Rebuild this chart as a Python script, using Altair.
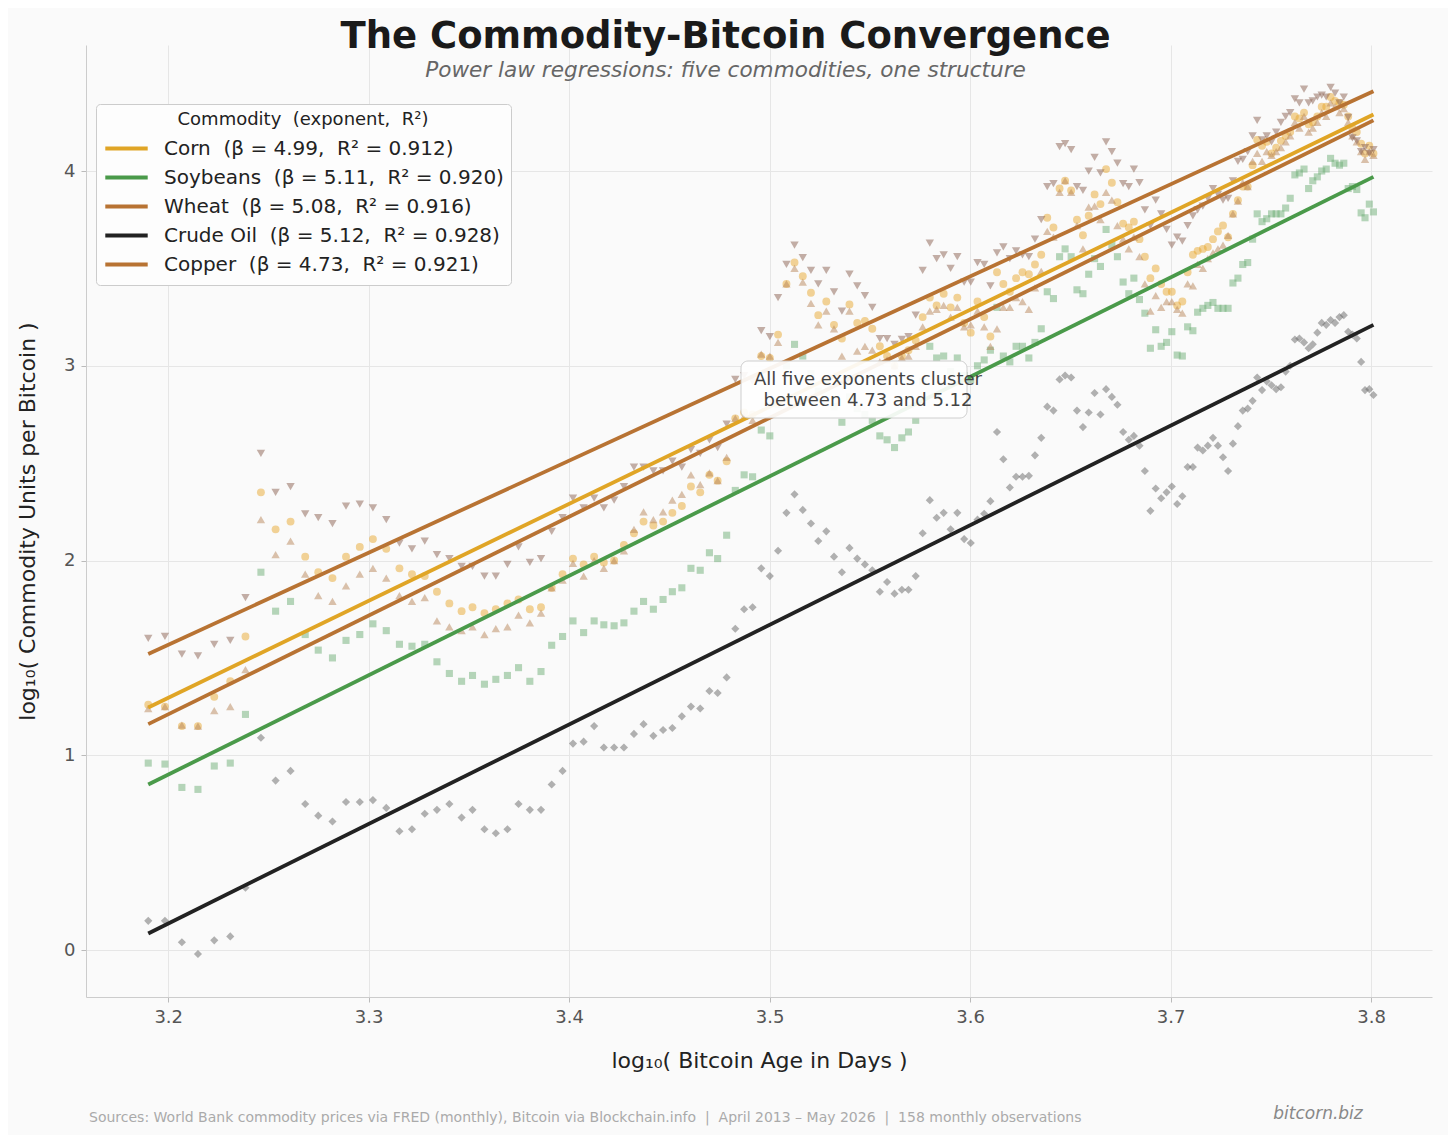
import numpy as np
import pandas as pd
import altair as alt

# ---------------- data ----------------
months = pd.date_range("2013-04-01", periods=158, freq="MS")
genesis = pd.Timestamp("2009-01-03")
age_days = np.asarray((months - genesis).days, dtype=float)
log_age = np.log10(age_days)

corn = [1.26, 1.25, 1.15, 1.15, 1.30, 1.38, 1.61, 2.35, 2.16, 2.20,
        2.02, 1.94, 1.91, 2.02, 2.07, 2.11, 2.06, 1.96, 1.93, 1.92,
        1.84, 1.78, 1.74, 1.76, 1.73, 1.75, 1.78, 1.80, 1.75, 1.76,
        1.86, 1.93, 2.01, 1.98, 2.02, 1.99, 2.00, 2.08, 2.14, 2.20,
        2.18, 2.20, 2.245, 2.28, 2.38, 2.35, 2.44, 2.41, 2.51, 2.73,
        2.76, 2.75, 3.05, 3.04, 3.16, 3.42, 3.53, 3.46, 3.375, 3.26,
        3.33, 3.21, 3.14, 3.315, 3.22, 3.23, 3.19, 3.10, 3.05, 3.00,
        3.05, 3.08, 3.13, 3.25, 3.35, 3.31, 3.37, 3.30, 3.35, 3.22,
        3.17, 3.33, 3.25, 3.15, 3.48, 3.42, 3.38, 3.45, 3.48, 3.47,
        3.52, 3.57, 3.76, 3.71, 3.91, 3.95, 3.90, 3.75, 3.67, 3.77,
        3.88, 3.83, 4.01, 3.94, 3.84, 3.73, 3.71, 3.74, 3.65, 3.56,
        3.45, 3.50, 3.42, 3.38, 3.38, 3.31, 3.33, 3.48, 3.57, 3.59,
        3.60, 3.61, 3.65, 3.69, 3.72, 3.66, 3.78, 3.85, 3.92, 3.92,
        4.03, 4.16, 4.13, 4.15, 4.09, 4.12, 4.155, 4.18, 4.20, 4.28,
        4.27, 4.30, 4.24, 4.25, 4.28, 4.33, 4.33, 4.38, 4.36, 4.35,
        4.34, 4.28, 4.22, 4.20, 4.14, 4.09, 4.13, 4.09]

soybeans = [0.96, 0.955, 0.835, 0.825, 0.945, 0.96, 1.21, 1.94, 1.74, 1.79,
            1.62, 1.54, 1.50, 1.59, 1.62, 1.675, 1.64, 1.57, 1.56, 1.57,
            1.48, 1.42, 1.38, 1.41, 1.365, 1.39, 1.41, 1.45, 1.38, 1.43,
            1.565, 1.61, 1.69, 1.63, 1.69, 1.67, 1.665, 1.68, 1.74, 1.79,
            1.75, 1.80, 1.84, 1.86, 1.96, 1.95, 2.04, 2.01, 2.13, 2.36,
            2.44, 2.43, 2.67, 2.64, 2.80, 3.00, 3.11, 3.05, 2.96, 2.87,
            2.92, 2.79, 2.71, 2.84, 2.78, 2.75, 2.72, 2.64, 2.62, 2.58,
            2.63, 2.66, 2.72, 2.92, 3.10, 3.04, 3.05, 2.97, 3.04, 2.95,
            2.93, 3.00, 3.03, 3.08, 3.30, 3.05, 3.02, 3.10, 3.10, 3.04,
            3.12, 3.19, 3.38, 3.345, 3.56, 3.60, 3.56, 3.39, 3.37, 3.47,
            3.55, 3.51, 3.70, 3.62, 3.56, 3.43, 3.37, 3.45, 3.34, 3.27,
            3.09, 3.185, 3.10, 3.12, 3.175, 3.055, 3.05, 3.20, 3.18, 3.275,
            3.295, 3.31, 3.325, 3.295, 3.295, 3.295, 3.425, 3.45, 3.52, 3.53,
            3.65, 3.78, 3.74, 3.755, 3.78, 3.78, 3.78, 3.81, 3.86, 3.98,
            3.99, 4.01, 3.91, 3.95, 3.97, 4.00, 4.01, 4.065, 4.04, 4.03,
            4.04, 3.91, 3.92, 3.905, 3.785, 3.76, 3.83, 3.79]

wheat = [1.24, 1.25, 1.155, 1.15, 1.23, 1.25, 1.44, 2.21, 2.03, 2.10,
         1.93, 1.82, 1.79, 1.87, 1.93, 1.96, 1.91, 1.82, 1.79, 1.81,
         1.69, 1.66, 1.64, 1.66, 1.62, 1.65, 1.66, 1.72, 1.68, 1.73,
         1.86, 1.90, 1.985, 1.92, 2.00, 1.96, 2.00, 2.05, 2.16, 2.25,
         2.21, 2.25, 2.31, 2.34, 2.44, 2.39, 2.45, 2.41, 2.53, 2.73,
         2.74, 2.72, 3.06, 3.05, 3.12, 3.42, 3.50, 3.43, 3.32, 3.21,
         3.28, 3.19, 3.05, 3.28, 3.075, 3.10, 3.08, 3.02, 3.03, 3.00,
         3.04, 3.05, 3.10, 3.20, 3.28, 3.29, 3.31, 3.25, 3.30, 3.20,
         3.21, 3.28, 3.20, 3.10, 3.19, 3.30, 3.30, 3.35, 3.33, 3.29,
         3.40, 3.485, 3.69, 3.66, 3.89, 3.95, 3.89, 3.72, 3.60, 3.815,
         3.82, 3.75, 3.89, 3.85, 3.72, 3.65, 3.60, 3.66, 3.56, 3.42,
         3.28, 3.36, 3.30, 3.33, 3.33, 3.29, 3.27, 3.42, 3.41, 3.52,
         3.50, 3.55, 3.58, 3.60, 3.62, 3.67, 3.78, 3.845, 3.94, 3.92,
         4.05, 4.09, 4.05, 4.10, 4.08, 4.10, 4.12, 4.15, 4.18, 4.25,
         4.22, 4.28, 4.20, 4.22, 4.25, 4.30, 4.28, 4.35, 4.33, 4.30,
         4.32, 4.25, 4.18, 4.15, 4.10, 4.06, 4.10, 4.08]

crude_oil = [0.15, 0.15, 0.04, -0.02, 0.05, 0.07, 0.32, 1.09, 0.87, 0.92,
             0.75, 0.69, 0.66, 0.76, 0.76, 0.77, 0.73, 0.61, 0.62, 0.70,
             0.72, 0.75, 0.68, 0.72, 0.62, 0.60, 0.62, 0.75, 0.72, 0.72,
             0.85, 0.92, 1.06, 1.07, 1.15, 1.04, 1.04, 1.04, 1.11, 1.16,
             1.10, 1.13, 1.14, 1.20, 1.25, 1.24, 1.33, 1.32, 1.40, 1.65,
             1.75, 1.76, 1.96, 1.92, 2.05, 2.245, 2.34, 2.26, 2.19, 2.10,
             2.15, 2.02, 1.94, 2.065, 2.01, 1.98, 1.95, 1.84, 1.89, 1.83,
             1.85, 1.85, 1.92, 2.14, 2.31, 2.22, 2.245, 2.16, 2.245, 2.11,
             2.09, 2.21, 2.24, 2.305, 2.66, 2.52, 2.375, 2.43, 2.43, 2.435,
             2.54, 2.63, 2.79, 2.77, 2.93, 2.95, 2.94, 2.77, 2.685, 2.76,
             2.86, 2.75, 2.88, 2.84, 2.80, 2.66, 2.62, 2.64, 2.59, 2.46,
             2.255, 2.37, 2.32, 2.35, 2.38, 2.29, 2.33, 2.48, 2.48, 2.58,
             2.565, 2.59, 2.63, 2.59, 2.53, 2.46, 2.60, 2.69, 2.77, 2.78,
             2.82, 2.94, 2.875, 2.92, 2.90, 2.88, 2.89, 2.97, 3.00, 3.135,
             3.14, 3.12, 3.09, 3.11, 3.17, 3.22, 3.21, 3.235, 3.22, 3.25,
             3.26, 3.175, 3.16, 3.14, 3.02, 2.875, 2.88, 2.85]

copper = [1.60, 1.61, 1.52, 1.51, 1.57, 1.59, 1.81, 2.55, 2.35, 2.38,
          2.24, 2.22, 2.19, 2.28, 2.29, 2.27, 2.21, 2.09, 2.06, 2.10,
          2.03, 2.01, 1.97, 1.97, 1.92, 1.92, 1.98, 2.07, 1.99, 2.01,
          2.15, 2.22, 2.32, 2.27, 2.32, 2.27, 2.31, 2.38, 2.48, 2.48,
          2.46, 2.46, 2.51, 2.48, 2.57, 2.55, 2.62, 2.58, 2.70, 2.93,
          2.95, 2.92, 3.18, 3.15, 3.35, 3.52, 3.62, 3.555, 3.49, 3.42,
          3.49, 3.38, 3.28, 3.47, 3.41, 3.36, 3.30, 3.14, 3.14, 3.11,
          3.135, 3.15, 3.26, 3.49, 3.63, 3.55, 3.57, 3.50, 3.56, 3.43,
          3.43, 3.53, 3.52, 3.41, 3.58, 3.61, 3.55, 3.59, 3.57, 3.56,
          3.65, 3.75, 3.92, 3.935, 4.125, 4.14, 4.11, 3.92, 3.90, 4.00,
          4.07, 3.99, 4.15, 4.10, 4.04, 3.935, 3.92, 4.01, 3.94, 3.80,
          3.72, 3.85, 3.78, 3.70, 3.62, 3.66, 3.64, 3.72, 3.77, 3.80,
          3.82, 3.86, 3.91, 3.88, 3.85, 3.86, 3.95, 4.05, 4.06, 4.10,
          4.18, 4.26, 4.16, 4.18, 4.15, 4.20, 4.25, 4.28, 4.30, 4.37,
          4.35, 4.42, 4.35, 4.36, 4.38, 4.39, 4.38, 4.43, 4.40, 4.35,
          4.38, 4.275, 4.17, 4.155, 4.10, 4.12, 4.09, 4.11]

# fitted power-law lines: value at first and last month
fit_start = [1.245, 0.85, 1.16, 0.085, 1.52]
fit_end = [4.29, 3.97, 4.26, 3.21, 4.41]

names = ["Corn", "Soybeans", "Wheat", "Crude Oil", "Copper"]
betas = ["4.99", "5.11", "5.08", "5.12", "4.73"]
r2s = ["0.912", "0.920", "0.916", "0.928", "0.921"]
line_colors = ["#e0a526", "#4a9a4a", "#b87333", "#222222", "#b87333"]
point_colors = ["#e8a830", "#6eae76", "#b8865a", "#666666", "#8a6050"]
point_shapes = ["circle", "square", "triangle-up", "diamond", "triangle-down"]
point_sizes = [62, 50, 70, 66, 70]
series = [corn, soybeans, wheat, crude_oil, copper]

NB = "\u00a0"
labels = [f"{n}{NB} (β = {b},{NB} R² = {r})" for n, b, r in zip(names, betas, r2s)]

FONT = "DejaVu Sans"
W, H = 1346, 952

xscale = alt.Scale(domain=[3.159, 3.8304], nice=False, zero=False)
yscale = alt.Scale(domain=[-0.241, 4.647], nice=False, zero=False)
xaxis = alt.Axis(values=[3.2, 3.3, 3.4, 3.5, 3.6, 3.7, 3.8], format=".1f",
                 title="log₁₀( Bitcoin Age in Days )", titleFontSize=22,
                 titleFontWeight="normal", titleColor="#222222", titleFont=FONT,
                 titlePadding=24, labelFont=FONT, labelFontSize=18,
                 labelColor="#555555", labelPadding=6, tickSize=5,
                 tickColor="#bbbbbb", domainColor="#cccccc", gridColor="#e6e6e6")
yaxis = alt.Axis(values=[0, 1, 2, 3, 4], format="d",
                 title="log₁₀( Commodity Units per Bitcoin )", titleFontSize=22,
                 titleFontWeight="normal", titleColor="#222222", titleFont=FONT,
                 titlePadding=24, labelFont=FONT, labelFontSize=18,
                 labelColor="#555555", labelPadding=6, tickSize=5,
                 tickColor="#bbbbbb", domainColor="#cccccc", gridColor="#e6e6e6")

X = alt.X("x:Q", scale=xscale, axis=xaxis)
Y = alt.Y("y:Q", scale=yscale, axis=yaxis)

layers = []
for vals, shp, col, sz in zip(series, point_shapes, point_colors, point_sizes):
    df = pd.DataFrame({"x": log_age, "y": vals})
    layers.append(
        alt.Chart(df).mark_point(shape=shp, filled=True, size=sz, color=col,
                                 opacity=0.5, strokeWidth=0).encode(x=X, y=Y)
    )

rows = []
x0, x1 = float(log_age[0]), float(log_age[-1])
for k, lab in enumerate(labels):
    rows.append({"label": lab, "x": x0, "y": fit_start[k], "o": 0})
    rows.append({"label": lab, "x": x1, "y": fit_end[k], "o": 1})
fit_df = pd.DataFrame(rows)

legend = alt.Legend(orient="none", legendX=10, legendY=59,
                    title="Commodity\u00a0 (exponent,\u00a0 R²)", titleFont=FONT,
                    titleFontSize=18, titleFontWeight="normal", titleColor="#222222",
                    titleAnchor="middle", titlePadding=6, titleLimit=600,
                    labelFont=FONT, labelFontSize=20, labelColor="#222222",
                    labelOffset=14, symbolType="stroke", symbolStrokeWidth=3.8,
                    symbolSize=1800, clipHeight=27, rowPadding=2, padding=7,
                    fillColor="#fdfdfd", strokeColor="#cccccc", cornerRadius=4,
                    labelLimit=600)

lines = alt.Chart(fit_df).mark_line(strokeWidth=3.8).encode(
    x=X, y=Y,
    color=alt.Color("label:N", scale=alt.Scale(domain=labels, range=line_colors),
                    legend=legend),
    order="o:Q",
)
layers.append(lines)

one = pd.DataFrame({"a": [0]})
box = alt.Chart(one).mark_rect(fill="white", stroke="#cccccc", strokeWidth=1,
                               cornerRadius=7, opacity=0.92).encode(
    x=alt.value(655), x2=alt.value(881), y=alt.value(316), y2=alt.value(373))
box_text = alt.Chart(one).mark_text(font=FONT, fontSize=18, color="#444444",
                                    lineHeight=21, align="center", baseline="middle").encode(
    x=alt.value(782), y=alt.value(334.5),
    text=alt.value(["All five exponents cluster", "between 4.73 and 5.12"]))

title = alt.Chart(one).mark_text(font=FONT, fontSize=37, fontWeight="bold",
                                 color="#1a1a1a", align="center", baseline="middle").encode(
    x=alt.value(639.5), y=alt.value(-8), text=alt.value("The Commodity-Bitcoin Convergence"))
subtitle = alt.Chart(one).mark_text(font=FONT, fontSize=21.6, fontStyle="italic",
                                    color="#666666", align="center", baseline="middle").encode(
    x=alt.value(639.5), y=alt.value(26),
    text=alt.value("Power law regressions: five commodities, one structure"))
footer = alt.Chart(one).mark_text(font=FONT, fontSize=14, color="#aaaaaa",
                                  align="left", baseline="middle").encode(
    x=alt.value(3), y=alt.value(1073),
    text=alt.value("Sources: World Bank commodity prices via FRED (monthly), Bitcoin via "
                   "Blockchain.info\u00a0 |\u00a0 April 2013 – May 2026\u00a0 |\u00a0 "
                   "158 monthly observations"))
brand = alt.Chart(one).mark_text(font=FONT, fontSize=17, fontStyle="italic",
                                 color="#888888", align="center", baseline="middle").encode(
    x=alt.value(1232), y=alt.value(1069), text=alt.value("bitcorn.biz"))

layers += [box, box_text, title, subtitle, footer, brand]

chart = alt.layer(*layers).properties(
    width=W, height=H,
    autosize=alt.AutoSizeParams(type="none"),
    padding={"left": 78, "top": 37, "right": 16, "bottom": 138},
    background="#fafafa",
).configure_view(stroke=None)

chart.save("out.html", embed_options={"renderer": "svg", "actions": False})
